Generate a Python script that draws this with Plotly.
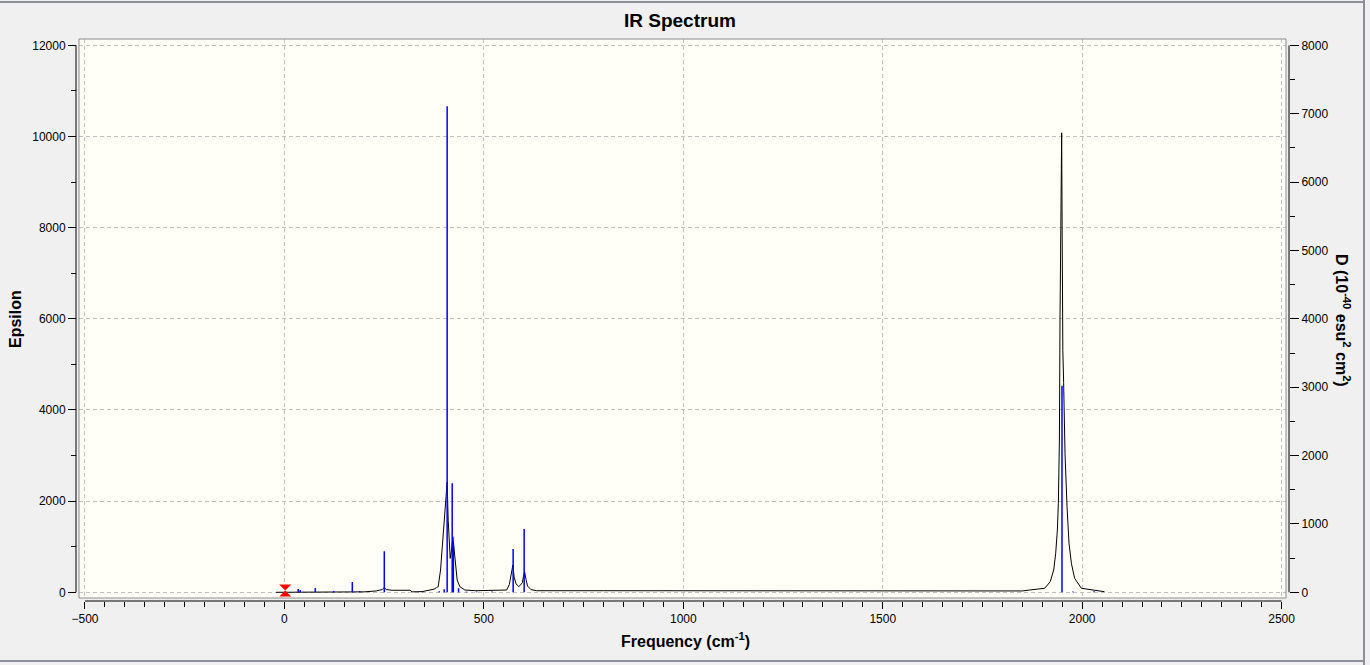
import plotly.graph_objects as go

# broadened spectrum (Epsilon, left axis)
freq = [-21, 100, 200, 230, 245, 250, 256, 270, 300, 315, 320, 345, 365, 375, 381,
        385.5, 391.4, 395.5, 398.9, 402.3, 404.8, 408, 410.6, 413.1, 415.6, 419,
        422.3, 425.6, 429, 433.1, 439.8, 452.4, 480, 540, 557, 564, 568, 572.7,
        576, 580.6, 587.7, 596.5, 600, 602, 605.8, 609.5, 618, 632, 800, 1000,
        1220, 1225, 1600, 1850, 1868, 1889, 1906, 1920, 1928.6, 1933.6, 1937.8,
        1940.3, 1942.9, 1944.4, 1946.1, 1946.9, 1948.6, 1949.5, 1950.5, 1951.5,
        1953.5, 1957, 1962, 1967, 1973, 1981, 1998, 2035, 2056]
epsilon = [0, 2, 10, 30, 60, 100, 60, 45, 45, 45, 10, 15, 50, 70, 100,
           123, 489, 1000, 1440, 1878, 2248, 2420, 1584, 1000, 745, 928,
           1220, 928, 563, 270, 123, 50, 35, 35, 50, 174, 357, 600,
           333, 187, 123, 210, 390, 452, 283, 137, 60, 35, 35, 35,
           35, 20, 20, 30, 50, 70, 88, 233, 489, 856, 1367,
           1953, 3341, 5974, 7437, 8899, 10080, 8460, 6000, 5300,
           4600, 3050, 1878, 1075, 636, 307, 88, 50, 13]

# dipole strengths (D, right axis) of the individual modes
mode_freq = [34.6, 39.7, 77.4, 123.6, 170.2, 188.8, 250.4, 346, 388, 400.6, 408,
             420.6, 423.5, 436.5, 456.6, 481.7, 520, 573.4, 601, 1949.4, 1977, 2029.6]
mode_d = [48, 34, 63, 19, 151, 19, 600, 10, 15, 45, 7110,
          1595, 690, 60, 10, 10, 10, 633, 926, 3022, 10, 15]

# selected mode marker
sel_freq = [2]
sel_eps = [40]

x_ticks = [-500, 0, 500, 1000, 1500, 2000, 2500]
y_ticks = [0, 2000, 4000, 6000, 8000, 10000, 12000]
y2_ticks = [0, 1000, 2000, 3000, 4000, 5000, 6000, 7000, 8000]

stick_x, stick_y = [], []
for f, d in zip(mode_freq, mode_d):
    stick_x += [f, f, None]
    stick_y += [0, d, None]

W, H = 1370, 665
ML, MR, MT, MB = 76, 81, 39, 64
pw, ph = W - ML - MR, H - MT - MB


def px(x):
    return (x - ML) / pw


def py(y):
    return (H - MB - y) / ph


fig = go.Figure()
fig.add_trace(go.Scatter(x=stick_x, y=stick_y, mode="lines", yaxis="y2",
                         line=dict(color="#0000ff", width=1.5), hoverinfo="skip"))
fig.add_trace(go.Scatter(x=freq, y=epsilon, mode="lines",
                         line=dict(color="black", width=1)))
fig.add_trace(go.Scatter(x=sel_freq, y=sel_eps, mode="markers",
                         marker=dict(symbol="hourglass", size=12, color="#ff0000")))

font = "Liberation Sans, Arial, sans-serif"
axis_common = dict(showline=False, zeroline=False, ticks="outside", tickcolor="black",
                   tickformat="d",
                   tickfont=dict(family=font, size=12, color="black"), fixedrange=True)

fig.update_layout(
    width=W, height=H,
    margin=dict(l=ML, r=MR, t=MT, b=MB, pad=0),
    paper_bgcolor="#f0f0f0",
    plot_bgcolor="#fffff7",
    showlegend=False,
    xaxis=dict(axis_common, range=[-515, 2511], domain=[3 / pw, 1 - 3 / pw],
               anchor="free", position=0, tickvals=x_ticks, ticklen=7,
               minor=dict(ticks="outside", ticklen=5, dtick=50, tick0=0, tickcolor="black",
                          showgrid=False),
               showgrid=True, gridcolor="#c0c0c0", griddash="4px,3px", gridwidth=1),
    yaxis=dict(axis_common, range=[-125, 12139], domain=[3 / ph, 1],
               anchor="free", position=0, tickvals=y_ticks, ticklen=8,
               minor=dict(ticks="outside", ticklen=5, dtick=1000, tick0=0, tickcolor="black",
                          showgrid=False),
               showgrid=True, gridcolor="#c0c0c0", griddash="4px,3px", gridwidth=1),
    yaxis2=dict(axis_common, range=[-83.3, 8093], overlaying="y", side="right",
                anchor="free", position=1, tickvals=y2_ticks, ticklen=9, showgrid=False,
                minor=dict(ticks="outside", ticklen=5, dtick=500, tick0=0, tickcolor="black",
                           showgrid=False)),
    shapes=[
        # plot frame
        dict(type="rect", xref="x domain", yref="y domain", x0=0, x1=1, y0=0, y1=1,
             line=dict(color="#8a8a8a", width=1)),
        # axis lines over the data ranges
        dict(type="line", xref="x", yref="paper", x0=-500, x1=2500, y0=0, y1=0,
             line=dict(color="black", width=1)),
        dict(type="line", xref="paper", yref="y", x0=0, x1=0, y0=0, y1=12000,
             line=dict(color="black", width=1)),
        dict(type="line", xref="paper", yref="y2", x0=1, x1=1, y0=0, y1=8000,
             line=dict(color="black", width=1)),
        # window frame
        dict(type="line", xref="paper", yref="paper", x0=px(0), x1=px(1364), y0=py(2), y1=py(2),
             line=dict(color="#8c9099", width=2)),
        dict(type="line", xref="paper", yref="paper", x0=px(0), x1=px(1364), y0=py(661), y1=py(661),
             line=dict(color="#8c9099", width=2)),
        dict(type="line", xref="paper", yref="paper", x0=px(1364), x1=px(1364), y0=py(0), y1=py(665),
             line=dict(color="#8c9099", width=2)),
    ],
    annotations=[
        dict(text="<b>IR Spectrum</b>", xref="paper", yref="paper", x=px(680), y=py(21),
             xanchor="center", yanchor="middle", showarrow=False,
             font=dict(family=font, size=19, color="black")),
        dict(text="<b>Frequency (cm<sup>-1</sup>)</b>", xref="paper", yref="paper",
             x=px(685), y=py(640), xanchor="center", yanchor="middle", showarrow=False,
             font=dict(family=font, size=16, color="black")),
        dict(text="<b>Epsilon</b>", xref="paper", yref="paper", x=px(15), y=py(319),
             xanchor="center", yanchor="middle", textangle=-90, showarrow=False,
             font=dict(family=font, size=16, color="black")),
        dict(text="<b>D (10<sup>-40</sup> esu<sup>2</sup> cm<sup>2</sup>)</b>", xref="paper",
             yref="paper", x=px(1343), y=py(320), xanchor="center", yanchor="middle",
             textangle=90, showarrow=False,
             font=dict(family=font, size=16, color="black")),
    ],
)

fig.write_html("out.html", config={"displayModeBar": False},
               post_script="document.body.style.margin='0';")
